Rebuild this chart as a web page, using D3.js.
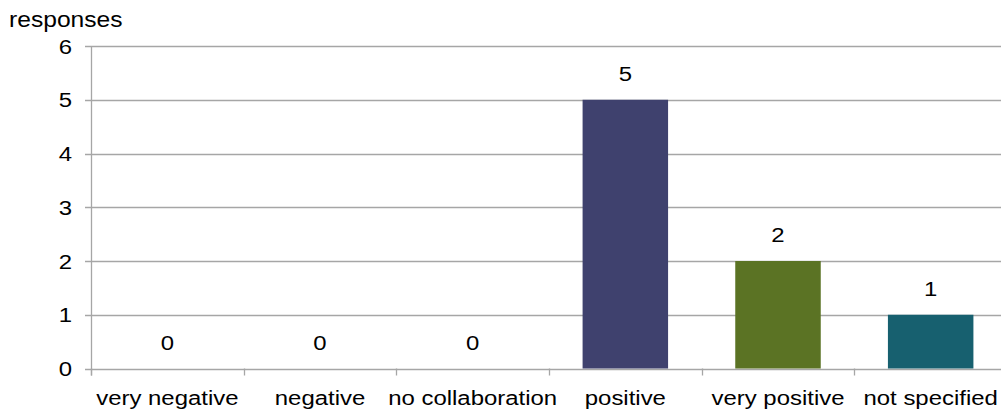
<!DOCTYPE html>
<html>
<head>
<meta charset="utf-8">
<script src="https://cdn.jsdelivr.net/npm/d3@7"></script>
<style>
  html, body { margin: 0; padding: 0; background: #fff; }
  svg { display: block; }
  text { font-family: "Liberation Sans", Arial, sans-serif; fill: #000; }
</style>
</head>
<body>
<svg id="chart" width="1001" height="414"></svg>
<script>
// Survey responses per category
const categories = ["very negative", "negative", "no collaboration", "positive", "very positive", "not specified"];
const responses = [0, 0, 0, 5, 2, 1];
const barColors = ["#3f416e", "#3f416e", "#3f416e", "#3f416e", "#5b7324", "#17606f"];
const yTicks = [0, 1, 2, 3, 4, 5, 6];
const yLabel = "responses";

const svg = d3.select("#chart");
const plotLeft = 91, plotRight = 1007, plotTop = 46, plotBottom = 368.5;
const gridColor = "#a6a6a6";
const fontSize = 21;
const stretch = 1.14; // slightly widened lettering

const x = d3.scaleBand().domain(categories).range([plotLeft, plotRight]).paddingInner(0.44).paddingOuter(0.22);
const y = d3.scaleLinear().domain([0, 6]).range([plotBottom, plotTop]);

// places a horizontally widened label at (px, py)
function label(parent, px, py, str, anchor, dy, size, sx) {
  parent.append("g")
    .attr("transform", `translate(${px},${py}) scale(${sx || stretch},1)`)
    .append("text")
    .attr("text-anchor", anchor || "start")
    .attr("dy", dy || 0)
    .attr("font-size", size || fontSize)
    .text(str);
}

// horizontal gridlines with short left ticks
svg.append("g").selectAll("line").data(yTicks).join("line")
  .attr("x1", plotLeft - 6).attr("x2", 1001)
  .attr("y1", d => Math.round(y(d)) + 0.5).attr("y2", d => Math.round(y(d)) + 0.5)
  .attr("stroke", gridColor).attr("stroke-width", 1.3);

// y axis line
svg.append("line")
  .attr("x1", plotLeft + 0.5).attr("x2", plotLeft + 0.5)
  .attr("y1", plotTop).attr("y2", plotBottom + 7)
  .attr("stroke", gridColor).attr("stroke-width", 1.3);

// category divider ticks below the baseline
const dividers = d3.range(categories.length + 1).map(i => plotLeft + i * (plotRight - plotLeft) / categories.length);
svg.append("g").selectAll("line").data(dividers).join("line")
  .attr("x1", d => Math.round(d) + 0.5).attr("x2", d => Math.round(d) + 0.5)
  .attr("y1", plotBottom).attr("y2", plotBottom + 7)
  .attr("stroke", gridColor).attr("stroke-width", 1.3);

// y tick labels
const yLabels = svg.append("g");
yTicks.forEach(t => label(yLabels, 72, y(t), t, "end", "0.36em"));

// axis title
label(svg, 9, 27, yLabel, "start", 0, 22, 1.12);

// bars
const data = categories.map((c, i) => ({ c, v: responses[i], color: barColors[i] }));
svg.append("g").selectAll("rect").data(data.filter(d => d.v > 0)).join("rect")
  .attr("x", d => x(d.c)).attr("width", x.bandwidth())
  .attr("y", d => y(d.v)).attr("height", d => y(0) - y(d.v))
  .attr("fill", d => d.color);

// value labels
const valueLabels = svg.append("g");
data.forEach(d => label(valueLabels, x(d.c) + x.bandwidth() / 2, y(d.v) - 19, d.v, "middle"));

// category labels
const catLabels = svg.append("g");
categories.forEach((c, i) => label(catLabels, (dividers[i] + dividers[i + 1]) / 2, 405, c, "middle"));
</script>
</body>
</html>
